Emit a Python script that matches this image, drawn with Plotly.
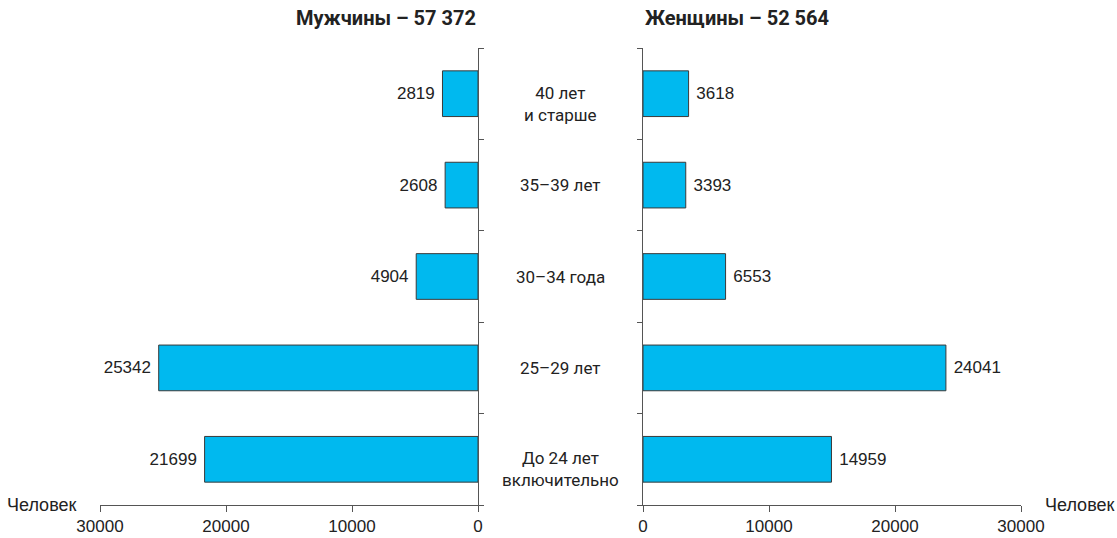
import plotly.graph_objects as go

categories = ["До 24 лет<br>включительно", "25–29 лет", "30–34 года", "35–39 лет", "40 лет<br>и старше"]
men = [21699, 25342, 4904, 2608, 2819]
women = [14959, 24041, 6553, 3393, 3618]
x_ticks = [0, 10000, 20000, 30000]
title_men = "Мужчины – 57 372"
title_women = "Женщины – 52 564"
unit_label = "Человек"

W, H = 1117, 538
BAR = "#00B9EF"
EDGE = "#3a3a3a"
AX = "#555"
NUM_FONT = "Liberation Sans Narrow, Arial Narrow, sans-serif"
CAT_FONT = "Roboto, sans-serif"
NBSP = "\u00a0"

ytop = 1 - 48 / H
ybot = 1 - 505 / H

fig = go.Figure()
fig.add_trace(go.Bar(
    y=categories, x=men, orientation="h", xaxis="x", yaxis="y",
    marker=dict(color=BAR, line=dict(color=EDGE, width=1)),
    text=[str(v) + NBSP for v in men], textposition="outside",
    textfont=dict(family=NUM_FONT, size=17, color="#222"),
    cliponaxis=False, showlegend=False, hoverinfo="skip",
))
fig.add_trace(go.Bar(
    y=categories, x=women, orientation="h", xaxis="x2", yaxis="y2",
    marker=dict(color=BAR, line=dict(color=EDGE, width=1)),
    text=[NBSP + str(v) for v in women], textposition="outside",
    textfont=dict(family=NUM_FONT, size=17, color="#222"),
    cliponaxis=False, showlegend=False, hoverinfo="skip",
))

xax_common = dict(
    tickvals=x_ticks, ticktext=[str(t) for t in x_ticks],
    showline=True, linecolor=AX, linewidth=1,
    ticks="outside", ticklen=6, tickcolor=AX,
    showgrid=False, zeroline=False, automargin=False,
    tickfont=dict(family=NUM_FONT, size=17, color="#222"),
)
yax_common = dict(
    categoryorder="array", categoryarray=categories,
    showline=True, linecolor=AX, linewidth=1,
    ticks="outside", ticklen=5, tickcolor=AX, tickson="boundaries",
    showticklabels=False, showgrid=False, zeroline=False, automargin=False,
    domain=[ybot, ytop],
)

fig.update_layout(
    width=W, height=H, autosize=False,
    margin=dict(l=0, r=0, t=0, b=0, pad=0, autoexpand=False),
    paper_bgcolor="white", plot_bgcolor="white",
    bargap=0.5,
    xaxis=dict(**xax_common, domain=[100 / W, 478 / W], range=[30000, 0], anchor="y"),
    xaxis2=dict(**xax_common, domain=[643 / W, 1021 / W], range=[0, 30000], anchor="y2"),
    yaxis=dict(**yax_common, anchor="x", side="right"),
    yaxis2=dict(**yax_common, anchor="x2", side="left"),
)

# small extension of the baseline past zero, as in the original
fig.add_shape(type="line", xref="x", yref="y domain", x0=0, x1=-450, y0=0, y1=0,
              line=dict(color=AX, width=1))
fig.add_shape(type="line", xref="x2", yref="y2 domain", x0=0, x1=-450, y0=0, y1=0,
              line=dict(color=AX, width=1))

for c in categories:
    two_lines = "<br>" in c
    fig.add_annotation(x=560 / W, xref="paper", y=c, yref="y", text=c,
                       showarrow=False, xanchor="center", yanchor="middle",
                       yshift=-10 if two_lines else 0,
                       font=dict(family=CAT_FONT, size=17, color="#222"))

fig.add_annotation(x=478 / W, xref="paper", y=1 - 18 / H, yref="paper",
                   text="<b>" + title_men + "</b>", showarrow=False,
                   xanchor="right", yanchor="middle",
                   font=dict(family=CAT_FONT, size=20, color="#222"))
fig.add_annotation(x=643 / W, xref="paper", y=1 - 18 / H, yref="paper",
                   text="<b>" + title_women + "</b>", showarrow=False,
                   xanchor="left", yanchor="middle",
                   font=dict(family=CAT_FONT, size=20, color="#222"))

fig.add_annotation(x=78 / W, xref="paper", y=1 - 505 / H, yref="paper",
                   text=unit_label, showarrow=False, xanchor="right", yanchor="middle",
                   font=dict(family=NUM_FONT, size=18, color="#222"))
fig.add_annotation(x=1043 / W, xref="paper", y=1 - 505 / H, yref="paper",
                   text=unit_label, showarrow=False, xanchor="left", yanchor="middle",
                   font=dict(family=NUM_FONT, size=18, color="#222"))

fig.write_html("out.html", config={"responsive": False, "displayModeBar": False})

with open("out.html", "r", encoding="utf-8") as f:
    html = f.read()
html = html.replace("<head>", "<head><style>html,body{margin:0;padding:0;overflow:hidden;}</style>", 1)
with open("out.html", "w", encoding="utf-8") as f:
    f.write(html)
